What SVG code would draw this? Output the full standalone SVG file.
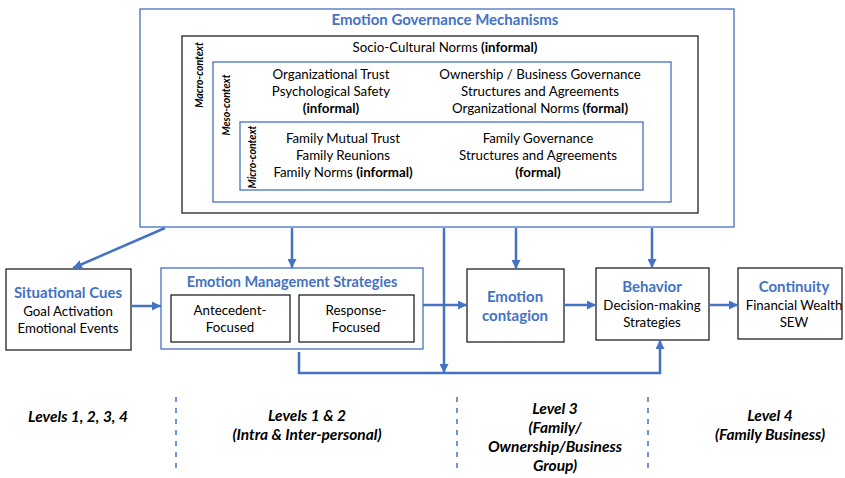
<svg xmlns="http://www.w3.org/2000/svg" width="845" height="478" viewBox="0 0 845 478">
<style>
text{font-family:Lato,"Noto Sans","Liberation Sans",sans-serif;fill:#000;text-anchor:middle}
.t{font-size:13.3px}
.b{font-weight:bold}
.h{font-size:15px;font-weight:bold;fill:#4472C4}
.rot{font-size:10.5px;font-weight:bold;font-style:italic}
.lv{font-size:15.5px;font-weight:bold;font-style:italic}
.bx{fill:#fff;stroke:#222;stroke-width:1.3}
.bl{fill:#fff;stroke:#4472C4;stroke-width:1.3}
.c{fill:none;stroke:#4472C4;stroke-width:2.5}
.d{fill:none;stroke:#4472C4;stroke-width:1.5;stroke-dasharray:5 6}
</style>
<defs>
<marker id="a" viewBox="0 0 10 10" refX="10" refY="5" markerWidth="9" markerHeight="9" markerUnits="userSpaceOnUse" orient="auto">
<path d="M0,0 L10,5 L0,10 z" fill="#4472C4"/>
</marker>
</defs>
<rect width="845" height="478" fill="#fff"/>

<g id="governance">
<rect class="bl" x="140" y="9" width="594" height="218" stroke="#6F94D6"/>
<text class="h" x="445" y="25">Emotion Governance Mechanisms</text>
</g>
<g id="macro">
<rect class="bx" x="182" y="36" width="516" height="177"/>
<text class="rot" transform="translate(203,75) rotate(-90)">Macro-context</text>
<text class="t" x="445" y="52">Socio-Cultural Norms <tspan class="b">(informal)</tspan></text>
</g>
<g id="meso">
<rect class="bl" x="213" y="62" width="458" height="140"/>
<text class="rot" transform="translate(230,105) rotate(-90)">Meso-context</text>
<text class="t" x="331" y="79">Organizational Trust</text>
<text class="t" x="331" y="96">Psychological Safety</text>
<text class="t b" x="331" y="113">(informal)</text>
<text class="t" x="540" y="79">Ownership / Business Governance</text>
<text class="t" x="540" y="96">Structures and Agreements</text>
<text class="t" x="540" y="113">Organizational Norms <tspan class="b">(formal)</tspan></text>
</g>
<g id="micro">
<rect class="bl" x="240" y="122" width="403" height="68" stroke="#3A5DA8"/>
<text class="rot" transform="translate(256,157) rotate(-90)">Micro-context</text>
<text class="t" x="343" y="143">Family Mutual Trust</text>
<text class="t" x="343" y="160">Family Reunions</text>
<text class="t" x="343" y="177">Family Norms <tspan class="b">(informal)</tspan></text>
<text class="t" x="538" y="143">Family Governance</text>
<text class="t" x="538" y="160">Structures and Agreements</text>
<text class="t b" x="538" y="177">(formal)</text>
</g>

<g id="situational">
<rect class="bx" x="6" y="269" width="125" height="81"/>
<text class="h" x="68" y="298">Situational Cues</text>
<text class="t" x="68" y="316">Goal Activation</text>
<text class="t" x="68" y="333">Emotional Events</text>
</g>
<g id="ems">
<rect class="bl" x="161" y="268" width="262" height="81"/>
<text class="h" x="292" y="287" style="font-size:14.5px">Emotion Management Strategies</text>
</g>
<g id="antecedent">
<rect class="bx" x="171" y="295" width="119" height="47"/>
<text class="t" x="230" y="315">Antecedent-</text>
<text class="t" x="230" y="332">Focused</text>
</g>
<g id="response">
<rect class="bx" x="299" y="295" width="115" height="47"/>
<text class="t" x="356" y="315">Response-</text>
<text class="t" x="356" y="332">Focused</text>
</g>
<g id="contagion">
<rect class="bx" x="467" y="269" width="97" height="73"/>
<text class="h" x="515" y="302">Emotion</text>
<text class="h" x="515" y="321">contagion</text>
</g>
<g id="behavior">
<rect class="bx" x="596" y="268" width="113" height="72"/>
<text class="h" x="652" y="292">Behavior</text>
<text class="t" x="652" y="310">Decision-making</text>
<text class="t" x="652" y="327">Strategies</text>
</g>
<g id="continuity">
<rect class="bx" x="738" y="268" width="104" height="71"/>
<text class="h" x="794" y="292">Continuity</text>
<text class="t" x="794" y="310">Financial Wealth</text>
<text class="t" x="794" y="327">SEW</text>
</g>

<g id="connectors">
<line class="c" x1="165" y1="228" x2="73" y2="268" marker-end="url(#a)"/>
<line class="c" x1="292" y1="228" x2="292" y2="268" marker-end="url(#a)"/>
<line class="c" x1="444" y1="228" x2="444" y2="373" marker-end="url(#a)"/>
<line class="c" x1="516" y1="228" x2="516" y2="269" marker-end="url(#a)"/>
<line class="c" x1="652" y1="228" x2="652" y2="268" marker-end="url(#a)"/>
<line class="c" x1="131" y1="306" x2="161" y2="306" marker-end="url(#a)"/>
<line class="c" x1="423" y1="305" x2="467" y2="305" marker-end="url(#a)"/>
<line class="c" x1="564" y1="305" x2="596" y2="305" marker-end="url(#a)"/>
<line class="c" x1="709" y1="305" x2="738" y2="305" marker-end="url(#a)"/>
<path class="c" d="M299,352 V373 H660 V340" marker-end="url(#a)"/>
<line class="d" x1="176" y1="397" x2="176" y2="474"/>
<line class="d" x1="457" y1="397" x2="457" y2="474"/>
<line class="d" x1="648" y1="397" x2="648" y2="474"/>
</g>

<g id="levels">
<text class="lv" x="78" y="422">Levels 1, 2, 3, 4</text>
<text class="lv" x="307" y="421">Levels 1 &amp; 2</text>
<text class="lv" x="307" y="440">(Intra &amp; Inter-personal)</text>
<text class="lv" x="555" y="414">Level 3</text>
<text class="lv" x="555" y="433">(Family/</text>
<text class="lv" x="555" y="452">Ownership/Business</text>
<text class="lv" x="555" y="471">Group)</text>
<text class="lv" x="770" y="421">Level 4</text>
<text class="lv" x="770" y="440">(Family Business)</text>
</g>
</svg>
